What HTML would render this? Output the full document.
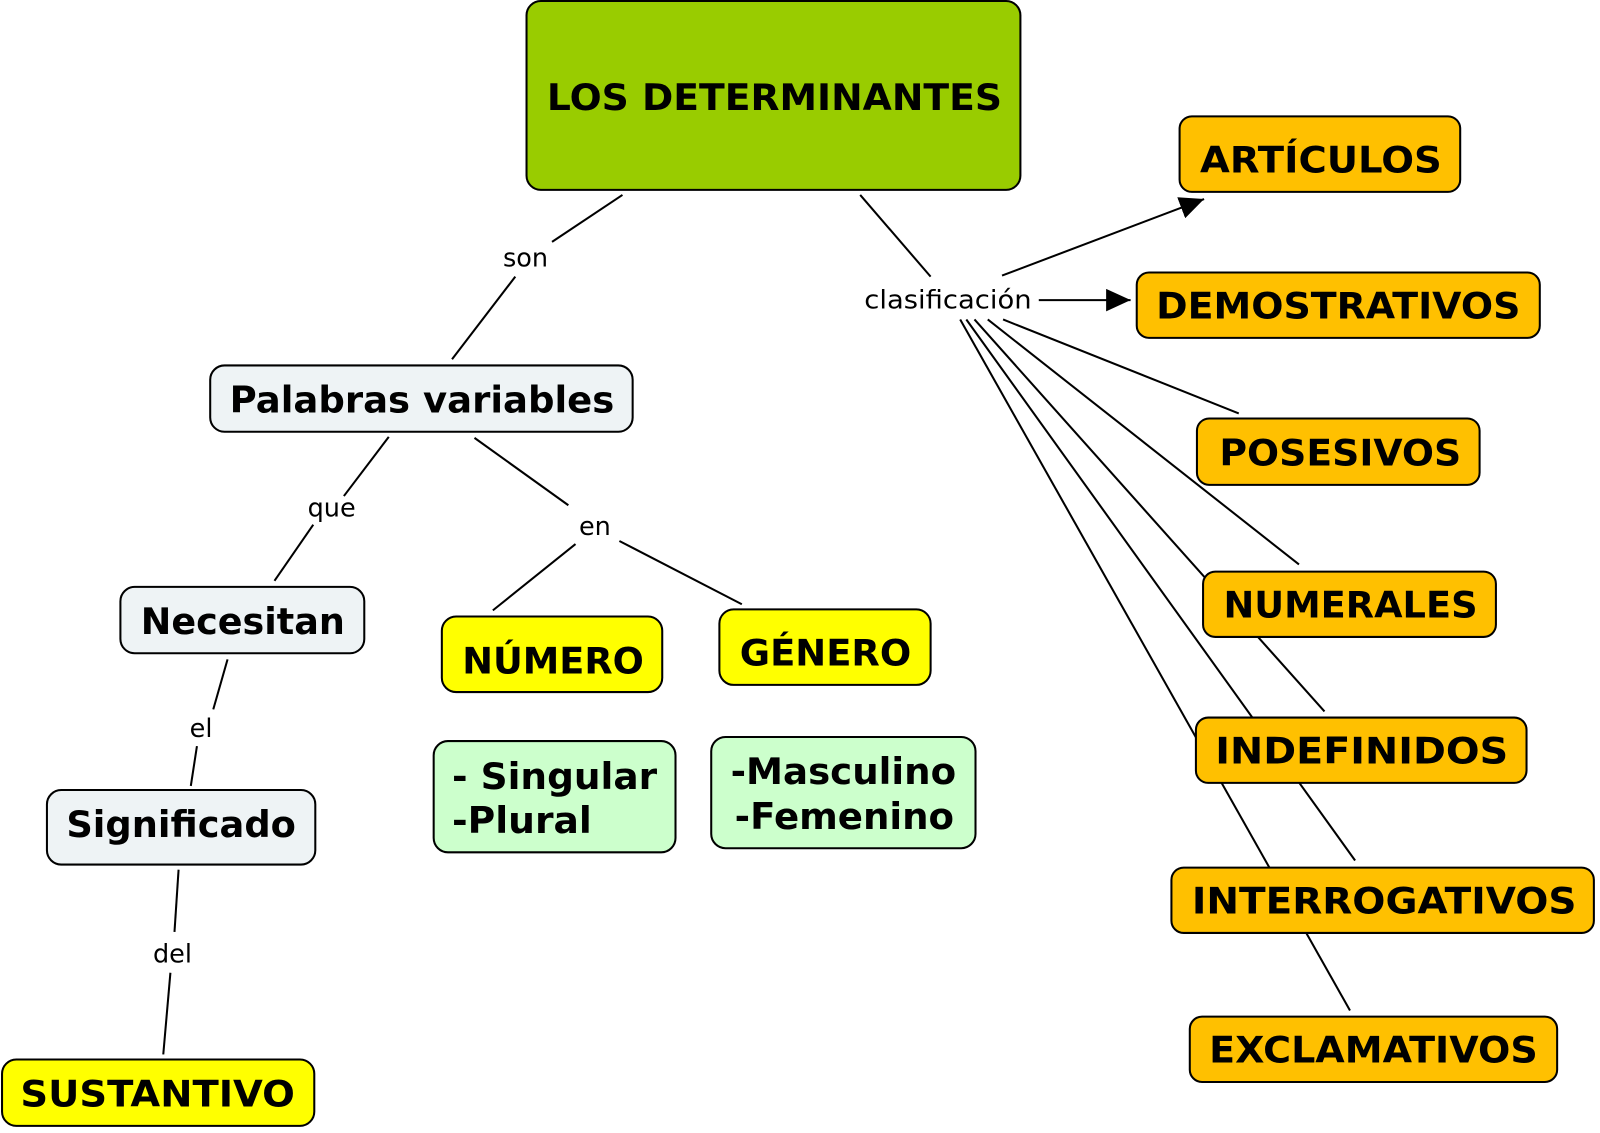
<!DOCTYPE html>
<html><head><meta charset="utf-8"><style>html,body{margin:0;padding:0;background:#fff;width:1600px;height:1133px;overflow:hidden}</style></head>
<body>
<svg width="1600" height="1133" viewBox="0 0 1568 1110" preserveAspectRatio="none" xmlns="http://www.w3.org/2000/svg" font-family="'DejaVu Sans', 'Liberation Sans', sans-serif">
<defs>
<marker id="b" markerWidth="24" markerHeight="22" refX="24" refY="11" orient="auto" markerUnits="userSpaceOnUse"><path d="M0,0 L24,11 L0,22 z" fill="#000"/></marker></defs>
<g stroke="#000" stroke-width="2" fill="none">
<line x1="610" y1="191" x2="541" y2="237"/><line x1="505" y1="271" x2="443" y2="352"/>
<line x1="843" y1="191" x2="912" y2="271"/>
<line x1="982" y1="270" x2="1180" y2="195" marker-end="url(#b)"/>
<line x1="1018" y1="294" x2="1108" y2="294" marker-end="url(#b)"/>
<line x1="983" y1="313" x2="1214" y2="405"/>
<line x1="968" y1="313" x2="1273" y2="553"/>
<line x1="955" y1="313" x2="1298" y2="697"/>
<line x1="947" y1="313" x2="1328" y2="843"/>
<line x1="941" y1="313" x2="1323" y2="990"/>
<line x1="381" y1="428" x2="337" y2="486"/><line x1="307" y1="514" x2="269" y2="569"/>
<line x1="465" y1="429" x2="557" y2="495"/><line x1="564" y1="533" x2="483" y2="598"/><line x1="607" y1="530" x2="727" y2="592"/>
<line x1="223" y1="646" x2="209" y2="695"/><line x1="193" y1="731" x2="187" y2="770"/>
<line x1="175" y1="852" x2="171" y2="913"/><line x1="167" y1="953" x2="160" y2="1033"/>
</g>
<g font-size="25" text-anchor="middle" fill="#000">
<text x="515" y="261">son</text><text x="929" y="302" textLength="164" lengthAdjust="spacingAndGlyphs">clasificación</text>
<text x="325" y="506">que</text><text x="583" y="524">en</text>
<text x="197" y="722">el</text><text x="169" y="943">del</text>
</g>
<g stroke="#000" stroke-width="2">
<rect x="516" y="1" width="484" height="185" rx="14" fill="#99cc00"/>
<g fill="#ffc000">
<rect x="1156" y="114" width="275" height="74" rx="12"/>
<rect x="1114" y="267" width="395" height="64" rx="12"/>
<rect x="1173" y="410" width="277" height="65" rx="12"/>
<rect x="1179" y="560" width="287" height="64" rx="12"/>
<rect x="1172" y="703" width="324" height="64" rx="12"/>
<rect x="1148" y="850" width="414" height="64" rx="12"/>
<rect x="1166" y="996" width="360" height="64" rx="12"/>
</g>
<g fill="#eef3f5">
<rect x="206" y="358" width="414" height="65" rx="14"/>
<rect x="118" y="575" width="239" height="65" rx="14"/>
<rect x="46" y="774" width="263" height="73" rx="14"/>
</g>
<g fill="#ffff00">
<rect x="2" y="1038" width="306" height="65" rx="14"/>
<rect x="433" y="604" width="216" height="74" rx="14"/>
<rect x="705" y="597" width="207" height="74" rx="14"/>
</g>
<g fill="#ccffcc">
<rect x="425" y="726" width="237" height="109" rx="14"/>
<rect x="697" y="722" width="259" height="109" rx="14"/>
</g>
</g>
<g font-weight="bold" font-size="36" fill="#000">
<text x="536" y="108" textLength="446" lengthAdjust="spacingAndGlyphs">LOS DETERMINANTES</text>
<text x="1176" y="169" textLength="237" lengthAdjust="spacingAndGlyphs">ARTÍCULOS</text>
<text x="1133" y="312" textLength="357" lengthAdjust="spacingAndGlyphs">DEMOSTRATIVOS</text>
<text x="1195" y="456" textLength="237" lengthAdjust="spacingAndGlyphs">POSESIVOS</text>
<text x="1199" y="605" textLength="249" lengthAdjust="spacingAndGlyphs">NUMERALES</text>
<text x="1191" y="748" textLength="287" lengthAdjust="spacingAndGlyphs">INDEFINIDOS</text>
<text x="1168" y="895" textLength="377" lengthAdjust="spacingAndGlyphs">INTERROGATIVOS</text>
<text x="1185" y="1041" textLength="322" lengthAdjust="spacingAndGlyphs">EXCLAMATIVOS</text>
<text x="225" y="404" textLength="377" lengthAdjust="spacingAndGlyphs">Palabras variables</text>
<text x="138" y="621" textLength="200" lengthAdjust="spacingAndGlyphs">Necesitan</text>
<text x="65" y="820" textLength="225" lengthAdjust="spacingAndGlyphs">Significado</text>
<text x="20" y="1084" textLength="269" lengthAdjust="spacingAndGlyphs">SUSTANTIVO</text>
<text x="453" y="660" textLength="178" lengthAdjust="spacingAndGlyphs">NÚMERO</text>
<text x="725" y="652" textLength="168" lengthAdjust="spacingAndGlyphs">GÉNERO</text>
<text x="443" y="773" textLength="201" lengthAdjust="spacingAndGlyphs">- Singular</text>
<text x="443" y="816" textLength="137" lengthAdjust="spacingAndGlyphs">-Plural</text>
<text x="716" y="768" textLength="221" lengthAdjust="spacingAndGlyphs">-Masculino</text>
<text x="720" y="812" textLength="215" lengthAdjust="spacingAndGlyphs">-Femenino</text>
</g>
</svg>
</body></html>
